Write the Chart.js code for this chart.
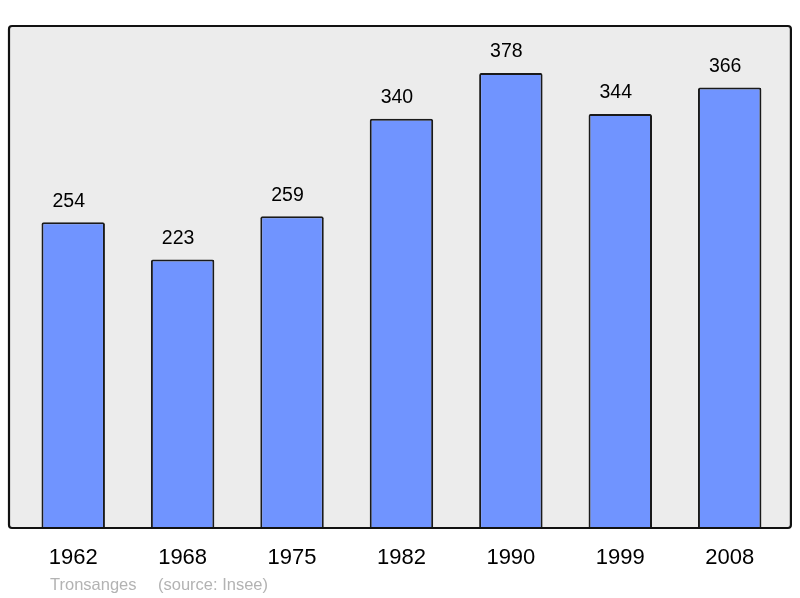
<!DOCTYPE html>
<html>
<head>
<meta charset="utf-8">
<script src="https://cdn.jsdelivr.net/npm/chart.js@4/dist/chart.umd.min.js"></script>
<style>
  html, body { margin: 0; padding: 0; background: #ffffff; }
  #wrap { width: 800px; height: 598px; position: relative; }
</style>
</head>
<body>
<div id="wrap"><canvas id="popChart"></canvas></div>
<script>
// census years and population
var years = ["1962", "1968", "1975", "1982", "1990", "1999", "2008"];
var population = [254, 223, 259, 340, 378, 344, 366];
var townName = "Tronsanges";
var sourceText = "(source: Insee)";

var FONT = "'Liberation Sans', Arial, sans-serif";

// grey panel with black rounded border behind the bars
var framePlugin = {
    id: "frame",
    beforeDatasetsDraw: function (chart) {
        var a = chart.chartArea, ctx = chart.ctx;
        ctx.save();
        ctx.beginPath();
        ctx.roundRect(a.left - 9.5, a.top, a.right - a.left + 16, a.bottom - a.top, 3);
        ctx.fillStyle = "#ececec";
        ctx.fill();
        ctx.restore();
    },
    afterDatasetsDraw: function (chart) {
        var a = chart.chartArea, ctx = chart.ctx;
        ctx.save();
        ctx.beginPath();
        ctx.roundRect(a.left - 9.5, a.top, a.right - a.left + 16, a.bottom - a.top, 3);
        ctx.lineWidth = 2.2;
        ctx.strokeStyle = "#111111";
        ctx.stroke();

        // value labels above each bar
        var meta = chart.getDatasetMeta(0);
        ctx.fillStyle = "#000000";
        ctx.font = "19.5px " + FONT;
        ctx.textAlign = "center";
        ctx.textBaseline = "middle";
        meta.data.forEach(function (bar, i) {
            ctx.fillText(String(population[i]), bar.x - 4.5, bar.y - 21);
        });

        // source line
        ctx.fillStyle = "#b3b3b3";
        ctx.font = "16.5px " + FONT;
        ctx.textAlign = "left";
        ctx.fillText(townName, 50, 585);
        ctx.fillText(sourceText, 158, 585);
        ctx.restore();
    }
};

var ctx = document.getElementById("popChart").getContext("2d");
var chartInstance = new Chart(ctx, {
    type: "bar",
    data: {
        labels: years,
        datasets: [{
            data: population,
            backgroundColor: "#7094ff",
            borderColor: "#1a1a1a",
            borderWidth: 2,
            borderRadius: 2,
            borderSkipped: "bottom",
            categoryPercentage: 1,
            barPercentage: 0.58
        }]
    },
    options: {
        responsive: true,
        maintainAspectRatio: false,
        animation: false,
        layout: { padding: { left: 18.5, right: 15.6, top: 26, bottom: 0 } },
        plugins: {
            legend: { display: false },
            tooltip: { enabled: false }
        },
        scales: {
            x: {
                grid: { display: false, drawTicks: false },
                border: { display: false },
                ticks: {
                    color: "#000000",
                    font: { family: FONT, size: 22 },
                    padding: 17
                },
                afterFit: function (scale) { scale.height = 70; }
            },
            y: {
                display: false,
                min: 0,
                max: 417
            }
        }
    },
    plugins: [framePlugin]
});
</script>
</body>
</html>
